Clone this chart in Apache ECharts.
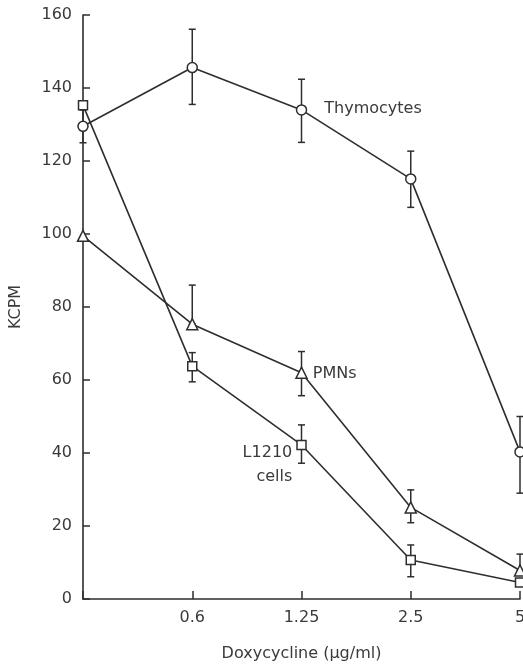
<!DOCTYPE html>
<html>
<head>
<meta charset="utf-8">
<script src="https://cdn.jsdelivr.net/npm/echarts@6/dist/echarts.min.js"></script>
<style>html,body{margin:0;padding:0;background:#fff;}#c{width:523px;height:665px;}</style>
</head>
<body>
<div id="c"></div>
<script>
const categories = ['0', '0.6', '1.25', '2.5', '5'];
const xTickLabels = ['', '0.6', '1.25', '2.5', '5'];
const yTicks = [0, 20, 40, 60, 80, 100, 120, 140, 160];

const thymocytes = [129.5, 145.6, 134.0, 115.1, 40.3];
const thymocytesLow = [125.0, 135.5, 125.1, 107.3, 29.0];
const thymocytesHigh = [134.0, 156.1, 142.4, 122.7, 50.0];

const pmns = [99.5, 75.3, 62.0, 25.1, 7.8];
const pmnsLow = [null, 75.3, 55.7, 20.9, 7.8];
const pmnsHigh = [null, 86.0, 67.8, 29.9, 12.3];

const l1210 = [135.3, 63.8, 42.2, 10.7, 4.5];
const l1210Low = [null, 59.5, 37.2, 6.1, null];
const l1210High = [null, 67.5, 47.7, 14.8, null];

const INK = '#2e2e2e';
const TEXT = '#3a3a3a';
const FONT = 'DejaVu Sans';

function errData(low, high) {
  const out = [];
  for (let i = 0; i < low.length; i++) {
    if (low[i] != null && high[i] != null) out.push([i, low[i], high[i]]);
  }
  return out;
}

function errorSeries(low, high) {
  return {
    type: 'custom',
    z: 1,
    silent: true,
    data: errData(low, high),
    renderItem: function (params, api) {
      const i = api.value(0);
      const lo = api.coord([i, api.value(1)]);
      const hi = api.coord([i, api.value(2)]);
      const w = 3.5;
      const style = { stroke: INK, lineWidth: 1.5 };
      return {
        type: 'group',
        children: [
          { type: 'line', shape: { x1: lo[0], y1: lo[1], x2: hi[0], y2: hi[1] }, style: style },
          { type: 'line', shape: { x1: hi[0] - w, y1: hi[1], x2: hi[0] + w, y2: hi[1] }, style: style },
          { type: 'line', shape: { x1: lo[0] - w, y1: lo[1], x2: lo[0] + w, y2: lo[1] }, style: style }
        ]
      };
    }
  };
}

function lineSeries(name, values, symbol, size, labelIdx, label) {
  const data = values.map(function (v, i) {
    if (i === labelIdx) return { value: v, label: label };
    return v;
  });
  return {
    name: name,
    type: 'line',
    z: 3,
    data: data,
    symbol: symbol,
    symbolSize: size,
    showAllSymbol: true,
    lineStyle: { color: INK, width: 1.6 },
    itemStyle: { color: '#fff', borderColor: INK, borderWidth: 1.5 },
    label: { show: false },
    emphasis: { disabled: true },
    animation: false
  };
}

const chart = echarts.init(document.getElementById('c'), null, { renderer: 'canvas' });
chart.setOption({
  animation: false,
  backgroundColor: '#fff',
  textStyle: { fontFamily: FONT, color: TEXT },
  grid: { left: 83, right: 3, top: 15, bottom: 66, containLabel: false, outerBoundsMode: 'none' },
  xAxis: {
    type: 'category',
    data: categories,
    boundaryGap: false,
    name: 'Doxycycline (μg/ml)',
    nameLocation: 'middle',
    nameGap: 47,
    nameTextStyle: { fontFamily: FONT, fontSize: 16, color: TEXT },
    axisLine: { lineStyle: { color: INK, width: 1.6 } },
    axisTick: { inside: true, length: 8, alignWithLabel: true, lineStyle: { color: INK, width: 1.5 } },
    axisLabel: {
      fontFamily: FONT, fontSize: 16, color: TEXT, margin: 11, hideOverlap: false,
      formatter: function (v, idx) { return xTickLabels[idx]; }
    },
    splitLine: { show: false }
  },
  yAxis: {
    type: 'value',
    min: yTicks[0],
    max: yTicks[yTicks.length - 1],
    interval: 20,
    name: 'KCPM',
    nameLocation: 'middle',
    nameRotate: 90,
    nameGap: 59,
    nameTextStyle: { fontFamily: FONT, fontSize: 16, color: TEXT },
    axisLine: { show: true, lineStyle: { color: INK, width: 1.6 } },
    axisTick: { show: true, inside: true, length: 7, lineStyle: { color: INK, width: 1.5 } },
    axisLabel: { fontFamily: FONT, fontSize: 16, color: TEXT, margin: 11 },
    splitLine: { show: false }
  },
  series: [
    errorSeries(thymocytesLow, thymocytesHigh),
    errorSeries(pmnsLow, pmnsHigh),
    errorSeries(l1210Low, l1210High),
    lineSeries('Thymocytes', thymocytes, 'circle', 10, 2, {
      show: true, formatter: 'Thymocytes', position: 'right', distance: 17, offset: [0, -1],
      fontFamily: FONT, fontSize: 16, color: TEXT
    }),
    lineSeries('PMNs', pmns, 'triangle', 11, 2, {
      show: true, formatter: 'PMNs', position: 'right', distance: 5, offset: [0, 1],
      fontFamily: FONT, fontSize: 16, color: TEXT
    }),
    lineSeries('L1210 cells', l1210, 'rect', 9, 2, {
      show: true, formatter: 'L1210\ncells', position: 'left', distance: 4, offset: [0, 20],
      align: 'right', lineHeight: 24, fontFamily: FONT, fontSize: 16, color: TEXT
    })
  ]
});
</script>
</body>
</html>
